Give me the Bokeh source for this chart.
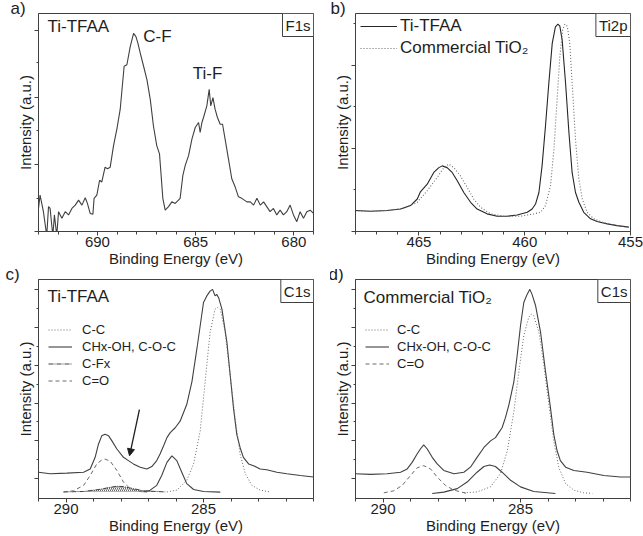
from bokeh.plotting import figure
from bokeh.models import (Range1d, FixedTicker, Label, Legend, LegendItem, Arrow,
                          NormalHead, CustomJSTickFormatter, Title)
from bokeh.layouts import column, row
from bokeh.embed import file_html
from bokeh.resources import INLINE

FONT = "Liberation Sans"
LINE = "#404040"
DOT = "#6a6a6a"
TEXT = "#1e1e1e"

# ---------------- data ----------------
# a) F1s, Ti-TFAA
f1s_energy = [693.00, 692.92, 692.75, 692.58, 692.49, 692.41, 692.27, 692.19, 692.07, 691.98,
              691.81, 691.64, 691.47, 691.30, 691.13, 690.96, 690.79, 690.62, 690.51, 690.37,
              690.23, 690.17, 690.03, 689.89, 689.78, 689.61, 689.49, 689.35, 689.18, 689.01,
              688.84, 688.64, 688.50, 688.33, 688.16, 688.04, 687.94, 687.82, 687.65, 687.48,
              687.31, 687.15, 686.98, 686.84, 686.77, 686.67, 686.55, 686.38, 686.21, 686.04,
              685.79, 685.65, 685.53, 685.36, 685.19, 685.02, 684.85, 684.77, 684.68, 684.60,
              684.43, 684.31, 684.23, 684.12, 684.01, 683.89, 683.75, 683.63, 683.50, 683.33,
              683.16, 682.99, 682.82, 682.65, 682.39, 682.22, 682.05, 681.88, 681.71, 681.54,
              681.38, 681.21, 681.04, 680.87, 680.70, 680.53, 680.36, 680.19, 680.02, 679.85,
              679.68, 679.51, 679.34, 679.17, 679.00]
f1s_intensity = [10.6, 16.7, 9.1, -2, 11.4, 10.6, -2, 7.6, -2, 9.1,
                 6.1, 9.1, 7.6, 10.6, 12.1, 14.4, 12.1, 15.5, 12.9, 8.3,
                 7.9, 15.2, 16.7, 23.5, 22.7, 29.5, 28.8, 29.5, 39.4, 47.0,
                 56.1, 75.8, 76.5, 84.8, 90.9, 89.4, 86.4, 81.8, 75.8, 69.7,
                 60.6, 48.5, 39.4, 35.6, 27.3, 15.2, 9.8, 11.4, 13.6, 12.9,
                 15.2, 25.8, 30.3, 34.8, 42.4, 47.7, 50.0, 45.5, 50.0, 52.3,
                 57.6, 65.2, 57.6, 61.4, 56.1, 52.3, 49.2, 49.2, 42.4, 33.3,
                 24.2, 20.5, 15.9, 15.2, 13.6, 13.6, 12.1, 15.2, 12.1, 13.6,
                 11.4, 9.1, 10.6, 7.6, 9.8, 7.6, 9.1, 12.1, 7.6, 4.5,
                 9.1, 6.1, 9.1, 9.8, 8.3]

# b) Ti2p
ti2p_tfaa_energy = [468.00, 467.29, 466.50, 465.87, 465.40, 465.08, 464.93, 464.61, 464.30, 464.06,
                    463.90, 463.67, 463.43, 463.19, 462.88, 462.56, 462.25, 461.78, 461.30, 460.83,
                    460.36, 459.88, 459.65, 459.49, 459.33, 459.18, 459.02, 458.86, 458.70, 458.55,
                    458.43, 458.34, 458.23, 458.07, 457.91, 457.76, 457.60, 457.44, 457.21, 456.89,
                    456.58, 456.10, 455.63, 455.08]
ti2p_tfaa_intensity = [9.6, 9.3, 9.6, 10.3, 11.9, 14.9, 18.2, 21.7, 27.1, 29.3,
                       30.1, 29.3, 27.1, 23.3, 17.9, 13.4, 10.3, 8.1, 7.0, 7.0,
                       7.6, 8.8, 10.3, 12.6, 17.9, 30.1, 48.3, 68.1, 86.3, 93.9,
                       95.1, 94.2, 87.8, 68.1, 45.3, 27.1, 17.9, 13.4, 8.8, 5.8,
                       4.6, 3.5, 2.7, 2.0]
ti2p_comm_energy = [468.00, 467.29, 466.50, 465.72, 465.08, 464.61, 464.14, 463.82, 463.59, 463.35,
                    463.04, 462.72, 462.41, 462.09, 461.62, 460.99, 460.20, 459.57, 459.25, 459.02,
                    458.78, 458.62, 458.47, 458.34, 458.21, 458.10, 457.99, 457.87, 457.73, 457.60,
                    457.44, 457.28, 457.05, 456.73, 456.26, 455.63, 455.08]
ti2p_comm_intensity = [9.4, 9.3, 9.6, 10.6, 13.4, 18.7, 24.8, 29.3, 30.9, 29.3,
                       25.5, 20.2, 14.9, 11.1, 8.1, 7.0, 7.0, 8.1, 8.8, 11.9,
                       21.0, 37.7, 60.5, 80.2, 92.4, 95.1, 94.2, 86.3, 63.5, 42.2,
                       24.0, 14.9, 8.8, 5.8, 4.0, 2.7, 2.0]

# c) C1s Ti-TFAA
c1s_t_energy = [291.00, 290.58, 289.97, 289.36, 289.12, 288.94, 288.82, 288.70, 288.58, 288.45,
                288.33, 288.15, 287.91, 287.73, 287.55, 287.30, 287.06, 286.88, 286.70, 286.58,
                286.45, 286.33, 286.21, 286.03, 285.85, 285.61, 285.42, 285.24, 285.12, 285.00,
                284.88, 284.76, 284.67, 284.58, 284.52, 284.45, 284.33, 284.15, 284.03, 283.91,
                283.79, 283.67, 283.55, 283.36, 283.18, 282.94, 282.70, 282.33, 281.97, 281.48,
                281.00]
c1s_t_intensity = [12.0, 11.3, 11.6, 12.0, 13.5, 18.8, 24.8, 28.6, 29.3, 28.6,
                   26.3, 22.6, 18.8, 17.3, 15.8, 14.3, 13.5, 14.6, 17.3, 20.3,
                   24.1, 27.8, 30.1, 32.3, 35.3, 42.9, 53.4, 68.4, 78.9, 89.5,
                   92.5, 94.7, 95.5, 92.5, 93.2, 91.7, 86.5, 71.4, 56.4, 41.4,
                   29.3, 23.3, 18.8, 15.8, 15.0, 13.5, 13.1, 12.0, 11.3, 10.5,
                   9.8]
c_cc_energy = [286.33, 285.97, 285.61, 285.36, 285.12, 284.94, 284.76, 284.58, 284.49, 284.39,
               284.21, 284.03, 283.85, 283.67, 283.48, 283.24, 282.94, 282.58]
c_cc_intensity = [3.0, 3.8, 8.3, 15.8, 30.8, 53.4, 75.9, 86.5, 87.2, 86.5,
                  75.9, 56.4, 36.8, 20.3, 11.3, 6.0, 3.8, 3.0]
c_choh_energy = [287.18, 286.94, 286.70, 286.52, 286.33, 286.15, 285.97, 285.79, 285.61, 285.36,
                 285.00, 284.39]
c_choh_intensity = [3.0, 3.8, 6.0, 10.5, 16.5, 19.5, 17.3, 12.0, 6.8, 4.1, 3.2, 2.9]
c_cfx_energy = [290.09, 289.36, 288.76, 288.39, 288.15, 287.91, 287.55, 287.18, 286.39]
c_cfx_intensity = [3.0, 3.2, 4.2, 5.1, 5.6, 5.4, 4.5, 3.5, 3.0]
c_co_energy = [290.09, 289.73, 289.36, 289.12, 288.88, 288.70, 288.58, 288.39, 288.15, 287.91,
               287.67, 287.30, 287.06]
c_co_intensity = [3.0, 3.5, 6.0, 10.5, 15.8, 17.6, 18.0, 17.0, 12.8, 7.5, 4.5, 3.2, 2.9]
c_fit_baseline = 3.0

# d) C1s Commercial TiO2
c1s_c_energy = [291.00, 290.45, 289.85, 289.36, 289.12, 288.94, 288.76, 288.64, 288.52, 288.39,
                288.21, 288.03, 287.79, 287.42, 287.06, 286.82, 286.58, 286.33, 286.09, 285.91,
                285.79, 285.67, 285.55, 285.42, 285.24, 285.12, 285.00, 284.88, 284.76, 284.66,
                284.58, 284.45, 284.27, 284.09, 283.91, 283.79, 283.67, 283.55, 283.36, 283.06,
                282.58, 281.97, 281.36, 281.00]
c1s_c_intensity = [11.3, 11.0, 11.3, 12.0, 13.5, 16.5, 20.3, 22.6, 24.5, 22.6,
                   18.8, 15.8, 12.8, 11.3, 12.0, 14.3, 18.8, 23.3, 26.3, 27.8,
                   30.1, 32.3, 36.8, 42.9, 53.4, 65.4, 78.9, 89.5, 93.2, 95.5,
                   93.2, 88.0, 75.9, 57.9, 41.4, 29.3, 21.8, 17.3, 14.3, 12.8,
                   12.0, 10.5, 9.8, 9.8]
d_cc_energy = [287.06, 286.58, 286.09, 285.73, 285.48, 285.24, 285.06, 284.88, 284.70, 284.61,
               284.52, 284.33, 284.15, 283.97, 283.79, 283.61, 283.36, 283.06, 282.70, 282.39]
d_cc_intensity = [2.6, 3.0, 5.3, 11.3, 21.8, 39.8, 57.9, 74.4, 82.7, 84.2,
                  83.5, 75.9, 60.9, 42.9, 26.3, 14.3, 6.8, 3.8, 2.6, 2.3]
d_choh_energy = [288.21, 287.79, 287.30, 286.94, 286.58, 286.33, 286.12, 285.91, 285.67, 285.36,
                 285.00, 284.52, 283.73]
d_choh_intensity = [2.3, 2.9, 4.5, 7.5, 12.0, 14.6, 15.3, 14.6, 12.0, 8.3, 5.3, 3.2, 2.3]
d_co_energy = [289.97, 289.61, 289.30, 289.00, 288.76, 288.52, 288.27, 288.03, 287.73, 287.42,
               286.94]
d_co_intensity = [2.6, 3.5, 6.0, 10.5, 14.0, 15.0, 13.5, 9.8, 6.0, 3.8, 2.3]

# axis ticks
a_xmajor, a_xminor = [690, 685, 680], list(range(679, 694))
b_xmajor, b_xminor = [465, 460, 455], list(range(455, 469))
cd_xmajor, cd_xminor = [290, 285], list(range(281, 292))
a_ymajor, a_yminor = [0, 30.6, 61.4, 92.4], [15.2, 46.2, 77.3]
b_ymajor, b_yminor = [0, 38.1, 76.2], [19.05, 57.15, 95.25]
cd_ymajor = [9.0, 26.3, 43.6, 60.9, 78.2, 95.5]
cd_yminor = [17.65, 34.95, 52.25, 69.55, 86.85]

X_LABEL = "Binding Energy (eV)"
Y_LABEL = "Intensity (a.u.)"


def make_panel(width, height, bl, br, bt, bb, xr, xmaj, xmin, ymaj, ymin):
    p = figure(width=width, height=height, x_range=Range1d(xr[0], xr[1]),
               y_range=Range1d(0, 100), output_backend="svg", toolbar_location=None,
               min_border_left=bl, min_border_right=br, min_border_top=bt, min_border_bottom=bb)
    p.grid.visible = False
    p.outline_line_color = LINE
    p.outline_line_alpha = 1
    p.outline_line_width = 1
    p.background_fill_color = "white"
    p.border_fill_color = "white"
    xa = p.xaxis[0]
    xa.ticker = FixedTicker(ticks=xmaj, minor_ticks=xmin)
    xa.axis_label = X_LABEL
    xa.axis_label_text_font = FONT
    xa.axis_label_text_font_size = "15px"
    xa.axis_label_text_font_style = "normal"
    xa.axis_label_text_color = TEXT
    xa.axis_label_standoff = 0
    xa.major_label_text_font = FONT
    xa.major_label_text_font_size = "15px"
    xa.major_label_text_color = TEXT
    xa.major_label_standoff = 1
    xa.major_tick_out = 4
    xa.major_tick_in = 0
    xa.minor_tick_out = 3
    xa.minor_tick_in = 0
    xa.axis_line_color = LINE
    xa.major_tick_line_color = LINE
    xa.minor_tick_line_color = LINE
    ya = p.yaxis[0]
    ya.ticker = FixedTicker(ticks=ymaj, minor_ticks=ymin)
    ya.formatter = CustomJSTickFormatter(code="return ''")
    ya.axis_label = Y_LABEL
    ya.axis_label_text_font = FONT
    ya.axis_label_text_font_size = "15px"
    ya.axis_label_text_font_style = "normal"
    ya.axis_label_text_color = TEXT
    ya.axis_label_standoff = 1
    ya.major_label_standoff = 0
    ya.major_tick_out = 4
    ya.major_tick_in = 0
    ya.minor_tick_out = 2
    ya.minor_tick_in = 0
    ya.axis_line_color = LINE
    ya.major_tick_line_color = LINE
    ya.minor_tick_line_color = LINE
    return p


def add_text(p, x, y, txt, size="17px", align="left", baseline="middle", units="screen"):
    p.add_layout(Label(x=x, y=y, x_units=units, y_units=units, text=txt,
                       text_font=FONT, text_font_size=size, text_color=TEXT,
                       text_align=align, text_baseline=baseline))


def add_letter(p, txt, offset):
    p.add_layout(Title(text=txt, align="left", offset=offset, standoff=-30,
                       vertical_align="top", text_font=FONT, text_font_size="17px",
                       text_font_style="normal", text_color=TEXT), "above")


def add_box(p, x, y, txt):
    p.add_layout(Label(x=x, y=y, text=txt, text_font=FONT, text_font_size="15px",
                       text_color=TEXT, text_align="right", text_baseline="top",
                       border_line_color=LINE, border_line_width=1,
                       background_fill_color="white", padding=3))


W1 = 330
H1 = 269
H2 = 267
TOP2 = 10

# ---- a ----
pa = make_panel(W1, H1, 38, W1 - 38 - 275, 13, H1 - 13 - 220, (693, 679),
                a_xmajor, a_xminor, a_ymajor, a_yminor)
pa.line(f1s_energy, f1s_intensity, line_color=LINE, line_width=1.1)
add_letter(pa, "a)", -28)
add_text(pa, 9, 205, "Ti-TFAA")
add_text(pa, 119, 195, "C-F", align="center")
add_text(pa, 169, 158, "Ti-F", align="center")
add_box(pa, 679, 100, "F1s")

# ---- b ----
pb = make_panel(643 - W1, H1, 355 - W1, 13, 13, H1 - 13 - 220, (468, 455),
                b_xmajor, b_xminor, b_ymajor, b_yminor)
rb1 = pb.line(ti2p_tfaa_energy, ti2p_tfaa_intensity, line_color="#262626", line_width=1.1)
rb2 = pb.line(ti2p_comm_energy, ti2p_comm_intensity, line_color=DOT, line_width=1.1,
              line_dash="1 2")
lb = Legend(items=[LegendItem(label="Ti-TFAA", renderers=[rb1]),
                   LegendItem(label="Commercial TiO\u2082", renderers=[rb2])],
            location=(3, 171), padding=2, margin=0, spacing=2, label_height=20,
            glyph_height=20, glyph_width=37, label_standoff=3,
            label_text_font=FONT, label_text_font_size="17px", label_text_color=TEXT,
            background_fill_alpha=0, border_line_alpha=0)
pb.add_layout(lb)
add_letter(pb, "b)", -25)
add_box(pb, 455, 100, "Ti2p")

# ---- c ----
pc = make_panel(W1, H2, 38, W1 - 38 - 275, TOP2, H2 - TOP2 - 220, (291, 281),
                cd_xmajor, cd_xminor, cd_ymajor, cd_yminor)
pc.varea(x=c_cfx_energy, y1=[c_fit_baseline] * len(c_cfx_energy), y2=c_cfx_intensity,
         fill_alpha=0, hatch_pattern="\\", hatch_color=LINE, hatch_scale=4, hatch_weight=0.8)
rc_env = pc.line(c1s_t_energy, c1s_t_intensity, line_color=LINE, line_width=1.1)
rc_cc = pc.line(c_cc_energy, c_cc_intensity, line_color=DOT, line_width=1, line_dash="1 2")
rc_ch = pc.line(c_choh_energy, c_choh_intensity, line_color=LINE, line_width=1.1)
rc_cf = pc.line(c_cfx_energy, c_cfx_intensity, line_color=LINE, line_width=1,
                line_dash="5 1 1 1")
rc_co = pc.line(c_co_energy, c_co_intensity, line_color=DOT, line_width=1, line_dash="4 3")
lc = Legend(items=[LegendItem(label="C-C", renderers=[rc_cc]),
                   LegendItem(label="CHx-OH, C-O-C", renderers=[rc_ch]),
                   LegendItem(label="C-Fx", renderers=[rc_cf]),
                   LegendItem(label="C=O", renderers=[rc_co])],
            location=(8, 108), padding=2, margin=0, spacing=2, label_height=15,
            glyph_height=15, glyph_width=24, label_standoff=10,
            label_text_font=FONT, label_text_font_size="13px", label_text_color=TEXT,
            background_fill_alpha=0, border_line_alpha=0)
pc.add_layout(lc)
pc.add_layout(Arrow(end=NormalHead(size=7, fill_color=TEXT, line_color=TEXT),
                    x_start=287.33, y_start=40.6, x_end=287.69, y_end=19.5,
                    line_color=TEXT, line_width=1.3))
add_letter(pc, "c)", -33)
add_text(pc, 9, 202, "Ti-TFAA")
add_box(pc, 281, 100, "C1s")

# ---- d ----
pd_ = make_panel(643 - W1, H2, 355 - W1, 13, TOP2, H2 - TOP2 - 220, (291, 281),
                 cd_xmajor, cd_xminor, cd_ymajor, cd_yminor)
pd_.line(c1s_c_energy, c1s_c_intensity, line_color=LINE, line_width=1.1)
rd_cc = pd_.line(d_cc_energy, d_cc_intensity, line_color=DOT, line_width=1, line_dash="1 2")
rd_ch = pd_.line(d_choh_energy, d_choh_intensity, line_color=LINE, line_width=1.1)
rd_co = pd_.line(d_co_energy, d_co_intensity, line_color=DOT, line_width=1, line_dash="4 3")
ld = Legend(items=[LegendItem(label="C-C", renderers=[rd_cc]),
                   LegendItem(label="CHx-OH, C-O-C", renderers=[rd_ch]),
                   LegendItem(label="C=O", renderers=[rd_co])],
            location=(8, 125), padding=2, margin=0, spacing=2, label_height=15,
            glyph_height=15, glyph_width=24, label_standoff=8,
            label_text_font=FONT, label_text_font_size="13px", label_text_color=TEXT,
            background_fill_alpha=0, border_line_alpha=0)
pd_.add_layout(ld)
add_letter(pd_, "d)", -27)
add_text(pd_, 8, 201, "Commercial TiO\u2082")
add_box(pd_, 281, 100, "C1s")

layout = column(row(pa, pb), row(pc, pd_))
open("out.html", "w").write(file_html(layout, INLINE, "XPS"))
